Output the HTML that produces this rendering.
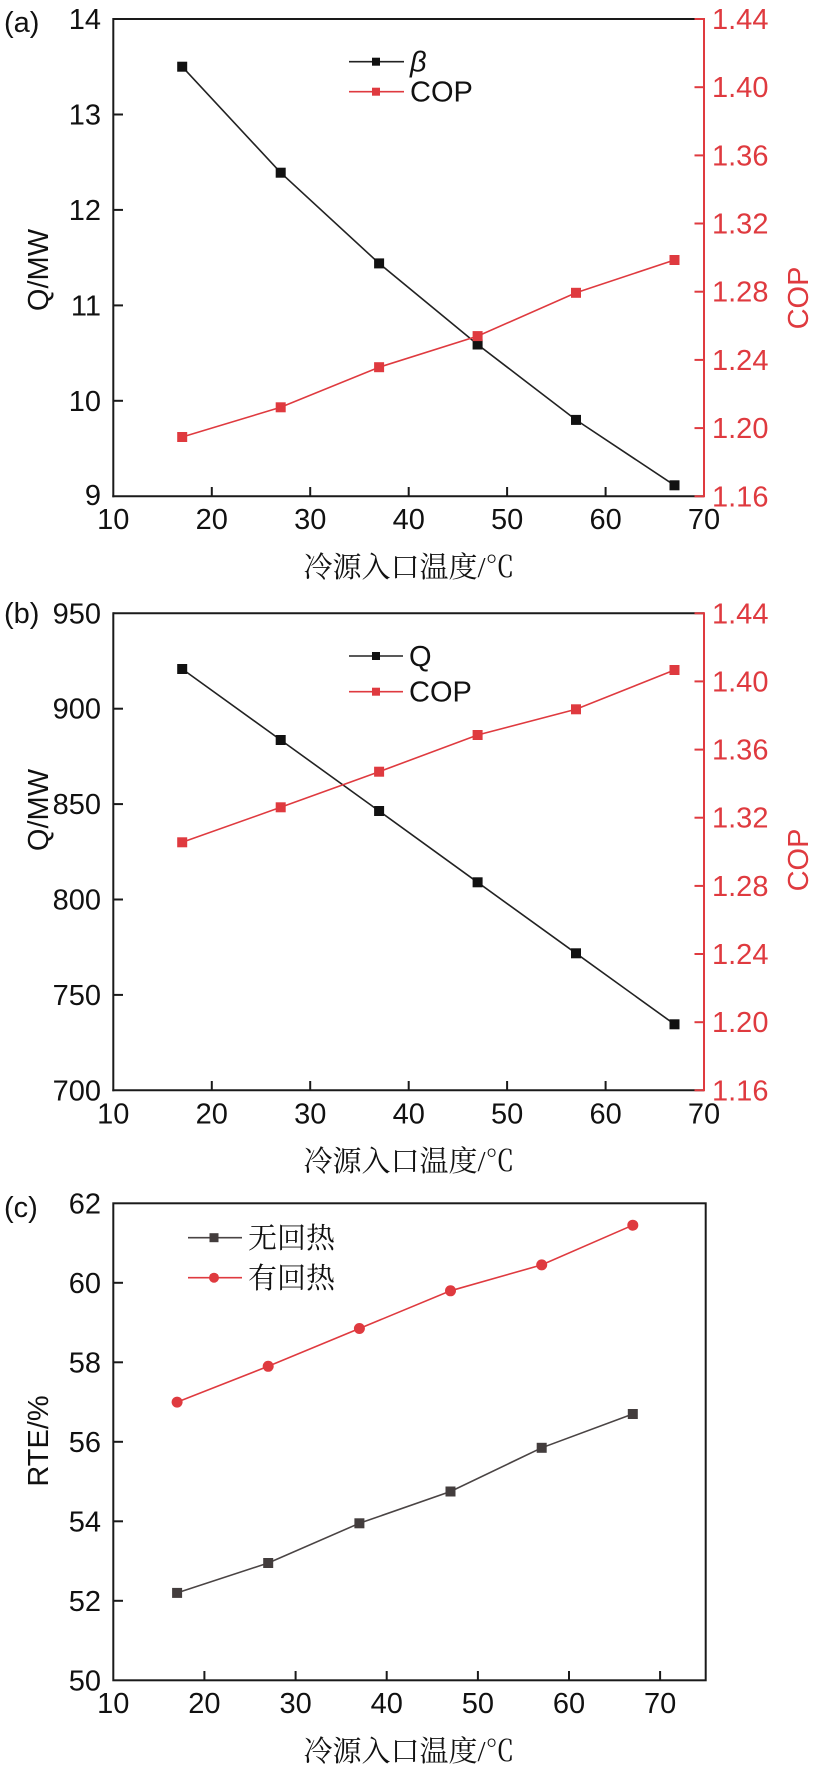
<!DOCTYPE html>
<html>
<head>
<meta charset="utf-8">
<style>
html,body{margin:0;padding:0;background:#fff;}
svg{display:block;}
.num{font-family:"Liberation Sans",Arial,sans-serif;font-size:29px;}
.cjk{font-family:"Noto Serif CJK SC","Noto Sans CJK SC",serif;}
</style>
</head>
<body>
<svg width="824" height="1775" viewBox="0 0 824 1775" xmlns="http://www.w3.org/2000/svg">
<rect width="824" height="1775" fill="#fff"/>

<!-- ================= PANEL (a) ================= -->
<g>
  <text x="4" y="32" class="num" fill="#111">(a)</text>
  <line x1="113.3" y1="19" x2="704" y2="19" stroke="#1a1a1a" stroke-width="2"/>
  <line x1="113.3" y1="18" x2="113.3" y2="497.3" stroke="#1a1a1a" stroke-width="2"/>
  <line x1="112.3" y1="496.3" x2="704" y2="496.3" stroke="#1a1a1a" stroke-width="2"/>
  <line x1="704" y1="18" x2="704" y2="497.3" stroke="#df3a3f" stroke-width="2"/>
  <g stroke="#1a1a1a" stroke-width="2">
    <line x1="113.3" y1="114.5" x2="123" y2="114.5"/>
    <line x1="113.3" y1="209.9" x2="123" y2="209.9"/>
    <line x1="113.3" y1="305.4" x2="123" y2="305.4"/>
    <line x1="113.3" y1="400.8" x2="123" y2="400.8"/>
  </g>
  <g stroke="#1a1a1a" stroke-width="2">
    <line x1="211.8" y1="496.3" x2="211.8" y2="487"/>
    <line x1="310.2" y1="496.3" x2="310.2" y2="487"/>
    <line x1="408.7" y1="496.3" x2="408.7" y2="487"/>
    <line x1="507.1" y1="496.3" x2="507.1" y2="487"/>
    <line x1="605.6" y1="496.3" x2="605.6" y2="487"/>
  </g>
  <g stroke="#df3a3f" stroke-width="2">
    <line x1="694.5" y1="19" x2="704" y2="19"/>
    <line x1="694.5" y1="87.2" x2="704" y2="87.2"/>
    <line x1="694.5" y1="155.4" x2="704" y2="155.4"/>
    <line x1="694.5" y1="223.5" x2="704" y2="223.5"/>
    <line x1="694.5" y1="291.7" x2="704" y2="291.7"/>
    <line x1="694.5" y1="359.9" x2="704" y2="359.9"/>
    <line x1="694.5" y1="428.1" x2="704" y2="428.1"/>
    <line x1="694.5" y1="496.3" x2="704" y2="496.3"/>
  </g>
  <g class="num" fill="#111" text-anchor="end">
    <text x="101" y="29">14</text>
    <text x="101" y="124.5">13</text>
    <text x="101" y="219.9">12</text>
    <text x="101" y="315.4">11</text>
    <text x="101" y="410.8">10</text>
    <text x="101" y="505">9</text>
  </g>
  <g class="num" fill="#df3a3f">
    <text x="712" y="29">1.44</text>
    <text x="712" y="97.2">1.40</text>
    <text x="712" y="165.4">1.36</text>
    <text x="712" y="233.5">1.32</text>
    <text x="712" y="301.7">1.28</text>
    <text x="712" y="369.9">1.24</text>
    <text x="712" y="438.1">1.20</text>
    <text x="712" y="506.3">1.16</text>
  </g>
  <g class="num" fill="#111" text-anchor="middle">
    <text x="113.3" y="529">10</text>
    <text x="211.8" y="529">20</text>
    <text x="310.2" y="529">30</text>
    <text x="408.7" y="529">40</text>
    <text x="507.1" y="529">50</text>
    <text x="605.6" y="529">60</text>
    <text x="704" y="529">70</text>
  </g>
  <text x="409" y="577" class="cjk" font-size="29" fill="#111" text-anchor="middle">冷源入口温度<tspan font-family="Liberation Serif,serif">/</tspan>℃</text>
  <text transform="translate(48,270) rotate(-90)" class="num" fill="#111" text-anchor="middle">Q/MW</text>
  <text transform="translate(808,298) rotate(-90)" class="num" fill="#df3a3f" text-anchor="middle">COP</text>
  <polyline points="182.2,66.7 280.7,172.7 379.1,263.4 477.6,344.5 576.0,419.9 674.5,485.3" fill="none" stroke="#222" stroke-width="1.6"/>
  <g fill="#111">
    <rect x="177.2" y="61.7" width="10" height="10"/>
    <rect x="275.7" y="167.7" width="10" height="10"/>
    <rect x="374.1" y="258.4" width="10" height="10"/>
    <rect x="472.6" y="339.5" width="10" height="10"/>
    <rect x="571.0" y="414.9" width="10" height="10"/>
    <rect x="669.5" y="480.3" width="10" height="10"/>
  </g>
  <polyline points="182.2,437.0 280.7,407.3 379.1,367.2 477.6,336.1 576.0,292.8 674.5,260.0" fill="none" stroke="#df3a3f" stroke-width="1.6"/>
  <g fill="#df3a3f">
    <rect x="177.2" y="432.0" width="10" height="10"/>
    <rect x="275.7" y="402.3" width="10" height="10"/>
    <rect x="374.1" y="362.2" width="10" height="10"/>
    <rect x="472.6" y="331.1" width="10" height="10"/>
    <rect x="571.0" y="287.8" width="10" height="10"/>
    <rect x="669.5" y="255.0" width="10" height="10"/>
  </g>
  <line x1="349" y1="61.7" x2="404" y2="61.7" stroke="#222" stroke-width="1.6"/>
  <rect x="372" y="57.7" width="8" height="8" fill="#111"/>
  <text x="410" y="71.7" class="num" fill="#111" font-style="italic">β</text>
  <line x1="349" y1="91.7" x2="404" y2="91.7" stroke="#df3a3f" stroke-width="1.6"/>
  <rect x="372" y="87.7" width="8" height="8" fill="#df3a3f"/>
  <text x="410" y="101.7" class="num" fill="#111">COP</text>
</g>

<!-- ================= PANEL (b) ================= -->
<g>
  <text x="4" y="623" class="num" fill="#111">(b)</text>
  <line x1="113.3" y1="613.3" x2="704" y2="613.3" stroke="#1a1a1a" stroke-width="2"/>
  <line x1="113.3" y1="612.3" x2="113.3" y2="1091.3" stroke="#1a1a1a" stroke-width="2"/>
  <line x1="112.3" y1="1090.3" x2="704" y2="1090.3" stroke="#1a1a1a" stroke-width="2"/>
  <line x1="704" y1="612.3" x2="704" y2="1091.3" stroke="#df3a3f" stroke-width="2"/>
  <g stroke="#1a1a1a" stroke-width="2">
    <line x1="113.3" y1="708.7" x2="123" y2="708.7"/>
    <line x1="113.3" y1="804.1" x2="123" y2="804.1"/>
    <line x1="113.3" y1="899.5" x2="123" y2="899.5"/>
    <line x1="113.3" y1="994.9" x2="123" y2="994.9"/>
  </g>
  <g stroke="#1a1a1a" stroke-width="2">
    <line x1="211.8" y1="1090.3" x2="211.8" y2="1081"/>
    <line x1="310.2" y1="1090.3" x2="310.2" y2="1081"/>
    <line x1="408.7" y1="1090.3" x2="408.7" y2="1081"/>
    <line x1="507.1" y1="1090.3" x2="507.1" y2="1081"/>
    <line x1="605.6" y1="1090.3" x2="605.6" y2="1081"/>
  </g>
  <g stroke="#df3a3f" stroke-width="2">
    <line x1="694.5" y1="613.3" x2="704" y2="613.3"/>
    <line x1="694.5" y1="681.4" x2="704" y2="681.4"/>
    <line x1="694.5" y1="749.6" x2="704" y2="749.6"/>
    <line x1="694.5" y1="817.7" x2="704" y2="817.7"/>
    <line x1="694.5" y1="885.9" x2="704" y2="885.9"/>
    <line x1="694.5" y1="954.0" x2="704" y2="954.0"/>
    <line x1="694.5" y1="1022.2" x2="704" y2="1022.2"/>
    <line x1="694.5" y1="1090.3" x2="704" y2="1090.3"/>
  </g>
  <g class="num" fill="#111" text-anchor="end">
    <text x="101" y="623.3">950</text>
    <text x="101" y="718.7">900</text>
    <text x="101" y="814.1">850</text>
    <text x="101" y="909.5">800</text>
    <text x="101" y="1004.9">750</text>
    <text x="101" y="1100.3">700</text>
  </g>
  <g class="num" fill="#df3a3f">
    <text x="712" y="623.3">1.44</text>
    <text x="712" y="691.4">1.40</text>
    <text x="712" y="759.6">1.36</text>
    <text x="712" y="827.7">1.32</text>
    <text x="712" y="895.9">1.28</text>
    <text x="712" y="964.0">1.24</text>
    <text x="712" y="1032.2">1.20</text>
    <text x="712" y="1100.3">1.16</text>
  </g>
  <g class="num" fill="#111" text-anchor="middle">
    <text x="113.3" y="1123.3">10</text>
    <text x="211.8" y="1123.3">20</text>
    <text x="310.2" y="1123.3">30</text>
    <text x="408.7" y="1123.3">40</text>
    <text x="507.1" y="1123.3">50</text>
    <text x="605.6" y="1123.3">60</text>
    <text x="704" y="1123.3">70</text>
  </g>
  <text x="409" y="1171" class="cjk" font-size="29" fill="#111" text-anchor="middle">冷源入口温度<tspan font-family="Liberation Serif,serif">/</tspan>℃</text>
  <text transform="translate(48,810) rotate(-90)" class="num" fill="#111" text-anchor="middle">Q/MW</text>
  <text transform="translate(808,860) rotate(-90)" class="num" fill="#df3a3f" text-anchor="middle">COP</text>
  <polyline points="182.2,669.0 280.7,740.0 379.1,811.0 477.6,882.3 576.0,953.3 674.5,1024.3" fill="none" stroke="#222" stroke-width="1.6"/>
  <g fill="#111">
    <rect x="177.2" y="664.0" width="10" height="10"/>
    <rect x="275.7" y="735.0" width="10" height="10"/>
    <rect x="374.1" y="806.0" width="10" height="10"/>
    <rect x="472.6" y="877.3" width="10" height="10"/>
    <rect x="571.0" y="948.3" width="10" height="10"/>
    <rect x="669.5" y="1019.3" width="10" height="10"/>
  </g>
  <polyline points="182.2,842.3 280.7,807.3 379.1,771.7 477.6,735.0 576.0,709.3 674.5,670.0" fill="none" stroke="#df3a3f" stroke-width="1.6"/>
  <g fill="#df3a3f">
    <rect x="177.2" y="837.3" width="10" height="10"/>
    <rect x="275.7" y="802.3" width="10" height="10"/>
    <rect x="374.1" y="766.7" width="10" height="10"/>
    <rect x="472.6" y="730.0" width="10" height="10"/>
    <rect x="571.0" y="704.3" width="10" height="10"/>
    <rect x="669.5" y="665.0" width="10" height="10"/>
  </g>
  <line x1="349" y1="656" x2="403" y2="656" stroke="#222" stroke-width="1.6"/>
  <rect x="372" y="652" width="8" height="8" fill="#111"/>
  <text x="409" y="666" class="num" fill="#111">Q</text>
  <line x1="349" y1="691.7" x2="403" y2="691.7" stroke="#df3a3f" stroke-width="1.6"/>
  <rect x="372" y="687.7" width="8" height="8" fill="#df3a3f"/>
  <text x="409" y="701.7" class="num" fill="#111">COP</text>
</g>

<!-- ================= PANEL (c) ================= -->
<g>
  <text x="4" y="1217" class="num" fill="#111">(c)</text>
  <rect x="113.3" y="1203.3" width="592.4" height="477" fill="none" stroke="#1a1a1a" stroke-width="2"/>
  <g stroke="#1a1a1a" stroke-width="2">
    <line x1="113.3" y1="1282.8" x2="123" y2="1282.8"/>
    <line x1="113.3" y1="1362.3" x2="123" y2="1362.3"/>
    <line x1="113.3" y1="1441.8" x2="123" y2="1441.8"/>
    <line x1="113.3" y1="1521.3" x2="123" y2="1521.3"/>
    <line x1="113.3" y1="1600.8" x2="123" y2="1600.8"/>
  </g>
  <g stroke="#1a1a1a" stroke-width="2">
    <line x1="204.4" y1="1680.3" x2="204.4" y2="1671"/>
    <line x1="295.6" y1="1680.3" x2="295.6" y2="1671"/>
    <line x1="386.7" y1="1680.3" x2="386.7" y2="1671"/>
    <line x1="477.9" y1="1680.3" x2="477.9" y2="1671"/>
    <line x1="569.0" y1="1680.3" x2="569.0" y2="1671"/>
    <line x1="660.1" y1="1680.3" x2="660.1" y2="1671"/>
  </g>
  <g class="num" fill="#111" text-anchor="end">
    <text x="101" y="1213.3">62</text>
    <text x="101" y="1292.8">60</text>
    <text x="101" y="1372.3">58</text>
    <text x="101" y="1451.8">56</text>
    <text x="101" y="1531.3">54</text>
    <text x="101" y="1610.8">52</text>
    <text x="101" y="1690.3">50</text>
  </g>
  <g class="num" fill="#111" text-anchor="middle">
    <text x="113.3" y="1713">10</text>
    <text x="204.4" y="1713">20</text>
    <text x="295.6" y="1713">30</text>
    <text x="386.7" y="1713">40</text>
    <text x="477.9" y="1713">50</text>
    <text x="569.0" y="1713">60</text>
    <text x="660.1" y="1713">70</text>
  </g>
  <text x="409" y="1761" class="cjk" font-size="29" fill="#111" text-anchor="middle">冷源入口温度<tspan font-family="Liberation Serif,serif">/</tspan>℃</text>
  <text transform="translate(48,1441) rotate(-90)" class="num" fill="#111" text-anchor="middle">RTE/%</text>
  <polyline points="177.1,1592.9 268.2,1563.0 359.4,1523.3 450.5,1491.5 541.7,1447.8 632.8,1414.0" fill="none" stroke="#4a4444" stroke-width="1.6"/>
  <g fill="#433d3d">
    <rect x="172.1" y="1587.9" width="10" height="10"/>
    <rect x="263.2" y="1558.0" width="10" height="10"/>
    <rect x="354.4" y="1518.3" width="10" height="10"/>
    <rect x="445.5" y="1486.5" width="10" height="10"/>
    <rect x="536.7" y="1442.8" width="10" height="10"/>
    <rect x="627.8" y="1409.0" width="10" height="10"/>
  </g>
  <polyline points="177.1,1402.1 268.2,1366.3 359.4,1328.5 450.5,1290.8 541.7,1264.9 632.8,1225.2" fill="none" stroke="#df3a3f" stroke-width="1.6"/>
  <g fill="#df3a3f">
    <circle cx="177.1" cy="1402.1" r="5.5"/>
    <circle cx="268.2" cy="1366.3" r="5.5"/>
    <circle cx="359.4" cy="1328.5" r="5.5"/>
    <circle cx="450.5" cy="1290.8" r="5.5"/>
    <circle cx="541.7" cy="1264.9" r="5.5"/>
    <circle cx="632.8" cy="1225.2" r="5.5"/>
  </g>
  <line x1="188" y1="1237.7" x2="242" y2="1237.7" stroke="#4a4444" stroke-width="1.6"/>
  <rect x="209.5" y="1233.2" width="9" height="9" fill="#433d3d"/>
  <text x="248" y="1248" class="cjk" font-size="29" fill="#111">无回热</text>
  <line x1="188" y1="1277.7" x2="242" y2="1277.7" stroke="#df3a3f" stroke-width="1.6"/>
  <circle cx="214" cy="1277.7" r="5" fill="#df3a3f"/>
  <text x="248" y="1288" class="cjk" font-size="29" fill="#111">有回热</text>
</g>
</svg>
</body>
</html>
